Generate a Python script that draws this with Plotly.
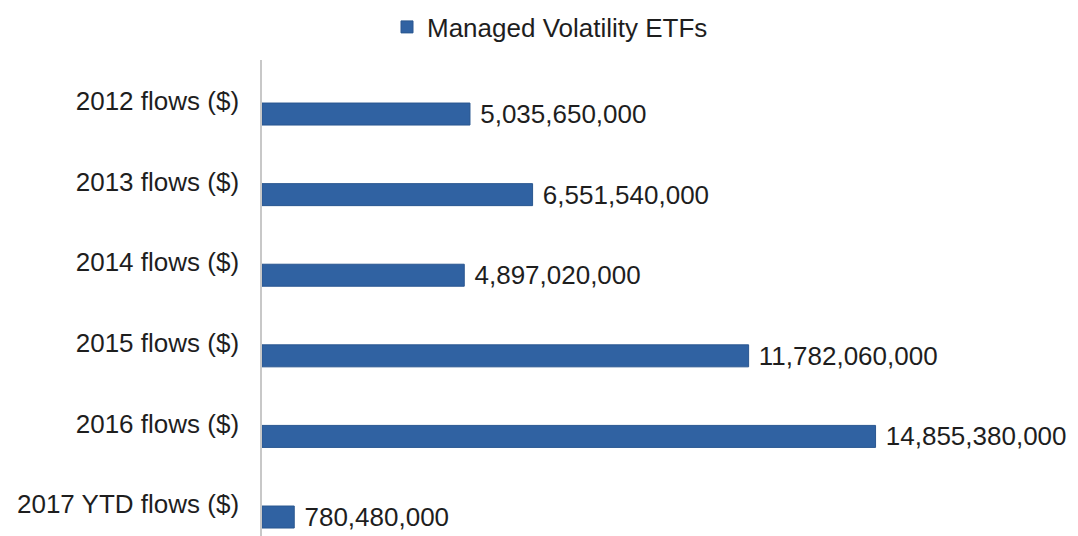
import plotly.graph_objects as go

categories = ["2012 flows ($)", "2013 flows ($)", "2014 flows ($)",
              "2015 flows ($)", "2016 flows ($)", "2017 YTD flows ($)"]
flows = [5035650000, 6551540000, 4897020000, 11782060000, 14855380000, 780480000]
series_name = "Managed Volatility ETFs"

fig = go.Figure()
fig.add_trace(go.Bar(
    y=categories, x=flows, orientation="h", name=series_name,
    marker=dict(color="#3062A2", line=dict(color="#2A5790", width=1)),
    width=0.273, offset=0.025,
    texttemplate="\u00a0%{x:,}", textposition="outside",
    textfont=dict(family="Liberation Sans, Arial", size=26, color="#1e1e1e"),
    constraintext="none", cliponaxis=False,
))

# the page body has an 8px margin, so the figure is 8px smaller than the window
fig.update_layout(
    width=1070, height=528,
    margin=dict(l=254, r=4, t=52, b=0, autoexpand=False),
    paper_bgcolor="white", plot_bgcolor="white",
    font=dict(family="Liberation Sans, Arial", size=26, color="#1e1e1e"),
    showlegend=True,
    legend=dict(orientation="h", xref="container", x=542 / 1070, xanchor="center",
                yref="container", y=1 - 19 / 528, yanchor="middle",
                font=dict(size=26), itemwidth=30),
    xaxis=dict(range=[0, 19.66e9], showgrid=False, zeroline=False, showline=False,
               showticklabels=False, ticks="", automargin=False),
    yaxis=dict(type="category", range=[5.397, -0.509], showgrid=False, zeroline=False,
               showline=True, linecolor="#C8C8C8", linewidth=1.5, ticks="",
               automargin=False,
               ticklabelstandoff=16, tickfont=dict(size=26, color="#1e1e1e")),
    bargap=0.7,
)

fig.write_html("out.html")
